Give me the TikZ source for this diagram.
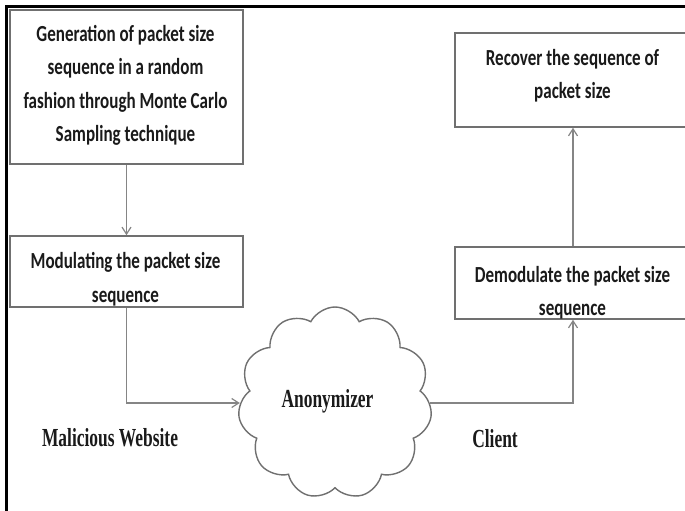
\documentclass[tikz,border=0pt]{standalone}
\usepackage{fontspec}
\newfontfamily\calib{Carlito}
\newfontfamily\tms{Liberation Serif}
\usetikzlibrary{shapes.symbols,arrows.meta}
\definecolor{boxgray}{HTML}{707070}
\definecolor{linegray}{HTML}{858585}
\definecolor{txtdark}{HTML}{1A1A1A}
\tikzset{
  box/.style={draw=boxgray, line width=1.6pt, rectangle, inner sep=0pt},
  txt/.style={font=\calib\bfseries\fontsize{23}{33.5}\selectfont, text=txtdark, align=center, inner sep=0pt, xscale=0.74},
  lbl/.style={font=\tms\bfseries\fontsize{26}{30}\selectfont, text=txtdark, inner sep=0pt, anchor=base, xscale=0.67},
  conn/.style={draw=linegray, line width=1.8pt, -{Straight Barb[length=7pt,width=9pt,line width=1.2pt]}},
  cloudshape/.style={cloud, draw=boxgray, line width=1.4pt, cloud puffs=11, cloud puff arc=125, minimum width=194pt, minimum height=192pt, inner sep=0pt}
}
\begin{document}
\begin{tikzpicture}[x=1pt,y=-1pt]
\useasboundingbox (0,0) rectangle (685,511);
\clip (0,0) rectangle (685,511);
\fill[white] (0,0) rectangle (685,511);
% frame
\draw[line width=3pt, black] (6.5,511) -- (6.5,6.5) -- (685,6.5);
% boxes
\node[box, minimum width=233pt, minimum height=154pt] (b1) at (126.5,87) {};
\node[box, minimum width=233pt, minimum height=71pt] (b2) at (126.5,271.5) {};
\node[box, minimum width=236pt, minimum height=94pt] (b3) at (573,80) {};
\node[box, minimum width=236pt, minimum height=72pt] (b4) at (573,283) {};
\node[cloudshape] (cl) at (335,403) {};
% texts
\node[txt] (t1) at (125.5,85.5) {Generation of packet size\\sequence in a random\\fashion through Monte Carlo\\Sampling technique};
\node[txt] (t2) at (125.5,279) {Modulating the packet size\\sequence};
\node[txt] (t3) at (572.5,75.5) {Recover the sequence of\\packet size};
\node[txt] (t4) at (572.5,292.5) {Demodulate the packet size\\sequence};
\node[lbl] (anon) at (327.5,407) {Anonymizer};
\node[lbl] (mal) at (110,446) {Malicious Website};
\node[lbl] (cli) at (495,447) {Client};
% connectors
\draw[conn] (b1) -- (b2);
\draw[conn] (b2.south) |- (cl.west);
\draw[conn] (cl.east) -| (b4.south);
\draw[conn] (b4) -- (b3);
\end{tikzpicture}
\end{document}
